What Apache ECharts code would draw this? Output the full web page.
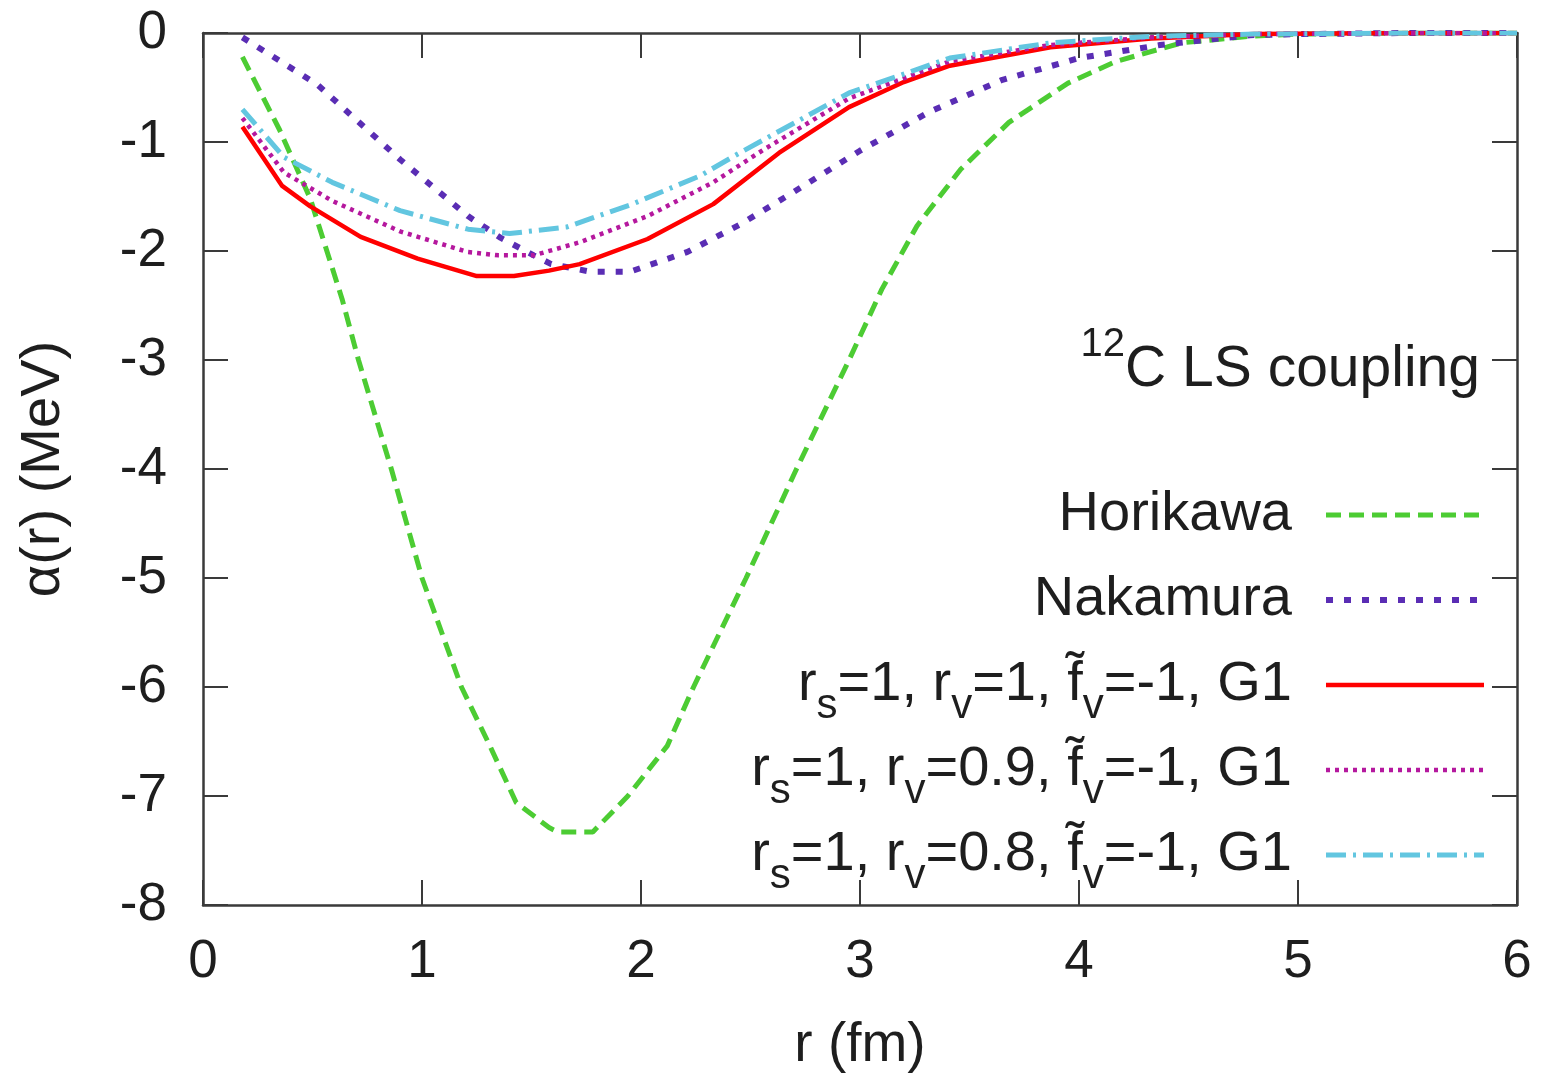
<!DOCTYPE html>
<html>
<head>
<meta charset="utf-8">
<script src="https://cdn.jsdelivr.net/npm/echarts@6/dist/echarts.min.js"></script>
<style>
html,body{margin:0;padding:0;background:#fff;}
#chart{width:1548px;height:1078px;}
</style>
</head>
<body>
<div id="chart"></div>
<script>
// ---- data ----
var xTicks = [0, 1, 2, 3, 4, 5, 6];
var yTicks = [0, -1, -2, -3, -4, -5, -6, -7, -8];

var rHorikawa = [0.18, 0.35, 0.49, 0.635, 0.71, 0.86, 1.0, 1.18, 1.31, 1.43, 1.58, 1.62, 1.78, 1.94, 2.12, 2.24, 2.48, 2.71, 2.95, 3.1, 3.26, 3.46, 3.68, 3.95, 4.17, 4.47, 4.78, 5.0, 5.5, 6.0];
var aHorikawa = [-0.22, -0.89, -1.52, -2.44, -3.0, -4.0, -5.0, -6.0, -6.54, -7.06, -7.29, -7.33, -7.33, -7.0, -6.54, -6.0, -5.0, -4.0, -3.0, -2.35, -1.77, -1.25, -0.82, -0.46, -0.26, -0.09, -0.03, -0.01, 0, 0];

var rNakamura = [0.18, 0.52, 0.90, 1.21, 1.36, 1.51, 1.59, 1.77, 1.95, 2.21, 2.45, 2.68, 3.0, 3.32, 3.65, 4.0, 4.37, 4.78, 5.0, 5.5, 6.0];
var aNakamura = [-0.04, -0.47, -1.16, -1.68, -1.88, -2.04, -2.12, -2.19, -2.19, -2.01, -1.76, -1.48, -1.08, -0.72, -0.43, -0.23, -0.11, -0.02, -0.01, 0, 0];

var rG1a = [0.18, 0.36, 0.49, 0.72, 0.98, 1.25, 1.42, 1.58, 1.72, 2.03, 2.33, 2.63, 2.95, 3.2, 3.41, 3.87, 4.33, 4.8, 5.5, 6.0];
var aG1a = [-0.86, -1.40, -1.59, -1.87, -2.07, -2.23, -2.23, -2.18, -2.12, -1.89, -1.57, -1.10, -0.68, -0.45, -0.30, -0.13, -0.05, -0.01, 0, 0];

var rG1b = [0.18, 0.37, 0.59, 0.90, 1.21, 1.35, 1.51, 1.72, 2.03, 2.33, 2.56, 2.95, 3.41, 3.87, 4.33, 4.8, 5.5, 6.0];
var aG1b = [-0.78, -1.28, -1.54, -1.82, -2.01, -2.04, -2.04, -1.92, -1.68, -1.37, -1.07, -0.60, -0.26, -0.11, -0.04, -0.01, 0, 0];

var rG1c = [0.18, 0.37, 0.59, 0.90, 1.21, 1.40, 1.66, 1.96, 2.27, 2.45, 2.95, 3.41, 3.87, 4.33, 4.8, 5.5, 6.0];
var aG1c = [-0.70, -1.14, -1.37, -1.63, -1.80, -1.84, -1.78, -1.57, -1.31, -1.10, -0.55, -0.23, -0.09, -0.03, -0.01, 0, 0];

var seriesNames = ['Horikawa', 'Nakamura', 'G1a', 'G1b', 'G1c'];
var legendLabels = {
  'Horikawa': 'Horikawa{sub|\u200b}',
  'Nakamura': 'Nakamura{sub|\u200b}',
  'G1a': 'r{sub|s}=1, r{sub|v}=1, f\u0303{sub|v}=-1, G1',
  'G1b': 'r{sub|s}=1, r{sub|v}=0.9, f\u0303{sub|v}=-1, G1',
  'G1c': 'r{sub|s}=1, r{sub|v}=0.8, f\u0303{sub|v}=-1, G1'
};

function zip(xs, ys) { return xs.map(function (x, i) { return [x, ys[i]]; }); }

var FONT = '"Liberation Sans", Arial, Helvetica, sans-serif';
var TXT = '#1e1e1e';
var AX = '#3a3a3a';

var chart = echarts.init(document.getElementById('chart'), null, {renderer: 'canvas'});

function axisCommon(extra) {
  var base = {
    type: 'value',
    axisLine: {show: true, onZero: false, lineStyle: {color: AX, width: 2.5}},
    axisTick: {show: true, inside: true, length: 25, lineStyle: {color: AX, width: 2}},
    splitLine: {show: false}
  };
  for (var k in extra) base[k] = extra[k];
  return base;
}

var option = {
  backgroundColor: '#ffffff',
  animation: false,
  grid: {left: 203, right: 31, top: 33, bottom: 168, containLabel: false},
  title: {
    text: '{sup|12}{m|C LS coupling}',
    right: 63,
    top: 333,
    textStyle: {
      fontWeight: 'normal',
      rich: {
        sup: {fontFamily: FONT, fontWeight: 'normal', fontSize: 40, color: TXT, height: 16, lineHeight: 64, padding: [0, 0, 50, 0]},
        m: {fontFamily: FONT, fontWeight: 'normal', fontSize: 57, color: TXT, lineHeight: 64}
      }
    }
  },
  legend: {
    data: seriesNames,
    orient: 'vertical',
    align: 'right',
    right: 56,
    top: 480,
    itemWidth: 158,
    itemHeight: 20,
    itemGap: 13,
    selectedMode: false,
    itemStyle: {opacity: 0},
    lineStyle: {width: 'inherit', opacity: 1},
    formatter: function (name) { return legendLabels[name]; },
    textStyle: {
      fontFamily: FONT, fontSize: 56, color: TXT, lineHeight: 60,
      padding: [0, 29, 0, 0],
      rich: {
        sub: {fontFamily: FONT, fontSize: 42, color: TXT, height: 18, lineHeight: 60, padding: [42, 0, 0, 0]}
      }
    }
  },
  xAxis: [
    axisCommon({
      position: 'bottom', min: 0, max: 6, interval: 1,
      name: 'r (fm)', nameLocation: 'middle', nameGap: 113,
      nameTextStyle: {fontFamily: FONT, fontSize: 55, color: TXT},
      axisLabel: {fontFamily: FONT, fontSize: 53, color: TXT, margin: 31,
        formatter: function (v) { return xTicks.indexOf(v) >= 0 ? String(v) : ''; }}
    }),
    axisCommon({
      position: 'top', min: 0, max: 6, interval: 1,
      axisLabel: {show: false}
    })
  ],
  yAxis: [
    axisCommon({
      position: 'left', min: -8, max: 0, interval: 1,
      name: '\u03b1(r) (MeV)', nameLocation: 'middle', nameGap: 131, nameRotate: 90,
      nameTextStyle: {fontFamily: FONT, fontSize: 56, color: TXT},
      axisLabel: {fontFamily: FONT, fontSize: 53, color: TXT, margin: 36,
        formatter: function (v) { return yTicks.indexOf(v) >= 0 ? String(v) : ''; }}
    }),
    axisCommon({
      position: 'right', min: -8, max: 0, interval: 1,
      axisLabel: {show: false}
    })
  ],
  series: [
    {
      name: 'Horikawa', type: 'line', showSymbol: false, symbol: 'none',
      data: zip(rHorikawa, aHorikawa),
      lineStyle: {color: '#4ccc33', width: 5, type: [15, 8], cap: 'butt'},
      itemStyle: {color: '#4ccc33'}
    },
    {
      name: 'Nakamura', type: 'line', showSymbol: false, symbol: 'none',
      data: zip(rNakamura, aNakamura),
      lineStyle: {color: '#5a2db4', width: 6, type: [7, 11], cap: 'butt'},
      itemStyle: {color: '#5a2db4'}
    },
    {
      name: 'G1a', type: 'line', showSymbol: false, symbol: 'none',
      data: zip(rG1a, aG1a),
      lineStyle: {color: '#ff0000', width: 4.5, type: 'solid'},
      itemStyle: {color: '#ff0000'}
    },
    {
      name: 'G1b', type: 'line', showSymbol: false, symbol: 'none',
      data: zip(rG1b, aG1b),
      lineStyle: {color: '#b5189e', width: 4.5, type: [4, 5], cap: 'butt'},
      itemStyle: {color: '#b5189e'}
    },
    {
      name: 'G1c', type: 'line', showSymbol: false, symbol: 'none',
      data: zip(rG1c, aG1c),
      lineStyle: {color: '#62c6e0', width: 5, type: [20, 7, 3, 7], cap: 'butt'},
      itemStyle: {color: '#62c6e0'}
    }
  ]
};
chart.setOption(option);
</script>
</body>
</html>
